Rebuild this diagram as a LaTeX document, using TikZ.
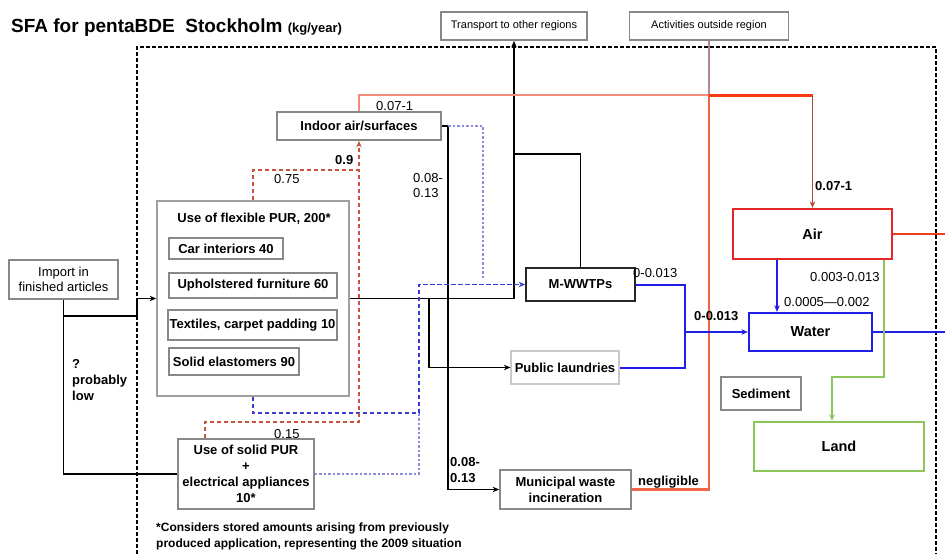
\documentclass[tikz,border=0pt]{standalone}
\usepackage{fontspec}
\setmainfont{Liberation Sans}
\usetikzlibrary{arrows.meta}
\newcommand\fsz[2]{\fontsize{#1}{#2}\selectfont}
\definecolor{boxgray}{HTML}{888888}
\definecolor{flexgray}{HTML}{A0A0A0}
\definecolor{laundgray}{HTML}{C8C8C8}
\definecolor{salmonline}{HTML}{F28C78}
\definecolor{redmed}{HTML}{F06448}
\definecolor{redthick}{HTML}{F83A10}
\definecolor{reddark}{HTML}{B8442C}
\definecolor{airred}{HTML}{E42626}
\definecolor{airline}{HTML}{E8401C}
\definecolor{bluel}{HTML}{1E1EE6}
\definecolor{bluedash}{HTML}{3A3AD8}
\definecolor{bluedot}{HTML}{8C8CE0}
\definecolor{greenl}{HTML}{8CC65A}
\definecolor{brdash}{HTML}{C8553C}
\definecolor{graybrown}{HTML}{B08888}
\begin{document}
\begin{tikzpicture}[x=1pt,y=-1pt,
  >={Stealth[length=6.5pt,width=5.5pt]},
  box/.style={draw=boxgray,line width=1.7pt,fill=white,inner sep=0pt,align=center,font=\fsz{13}{16}\bfseries},
  sbox/.style={box,font=\fsz{11}{13}},
  lbl/.style={anchor=base west,inner sep=0pt,font=\fsz{13}{15}},
  blbl/.style={anchor=base west,inner sep=0pt,font=\fsz{13}{15}\bfseries},
  blk/.style={line width=1.9pt,black},
  blu/.style={line width=2pt,bluel},
  bluthin/.style={line width=1.4pt,bluel},
  bdash/.style={line width=1.6pt,bluedash,dash pattern=on 4.5pt off 2.5pt},
  bdot/.style={line width=1.3pt,bluedot,dash pattern=on 2.5pt off 2pt},
  rdash/.style={line width=1.6pt,brdash,dash pattern=on 4.5pt off 2.5pt},
  salm/.style={line width=1.3pt,salmonline},
  gbr/.style={line width=1.3pt,graybrown},
  rmed/.style={line width=2.2pt,redmed},
  rthick/.style={line width=3pt,redthick},
  rdark/.style={line width=1.8pt,reddark},
  aline/.style={line width=2.4pt,airline},
  grn/.style={line width=1.9pt,greenl},
  bound/.style={line width=1.6pt,black,dash pattern=on 4pt off 2pt},
]
\useasboundingbox (0,0) rectangle (945,554);

% title
\node[anchor=base west,inner sep=0pt] (title) at (11,32)
  {\fsz{19}{21}\bfseries SFA for pentaBDE\ \ Stockholm {\fsz{13}{14}\bfseries(kg/year)}};

% system boundary
\draw[bound] (137,554) -- (137,47) -- (936,47) -- (936,554);

% outside boxes
\node[sbox,minimum width=146,minimum height=28] (transport) at (514,26) {Transport to other regions};
\node[sbox,minimum width=159,minimum height=28] (activities) at (709,26) {Activities outside region};

% inner boxes
\node[box,minimum width=164,minimum height=28] (indoor) at (359,126) {Indoor air/surfaces};
\node[box,draw=flexgray,minimum width=192,minimum height=195] (flex) at (253,298.5) {};
\node[anchor=base,inner sep=0pt,font=\fsz{13}{15}\bfseries] (flextitle) at (254,222) {Use of flexible PUR, 200*};
\node[box,minimum width=114,minimum height=21] (car) at (226,248.5) {Car interiors 40};
\node[box,minimum width=168,minimum height=25] (uph) at (253,285.5) {Upholstered furniture 60};
\node[box,minimum width=169,minimum height=30] (tex) at (252.5,325) {Textiles, carpet padding 10};
\node[box,minimum width=130,minimum height=27] (sol) at (234,361.5) {Solid elastomers 90};
\node[box,font=\fsz{13}{15},minimum width=109,minimum height=39] (import) at (63.5,279.5) {Import in\\finished articles};
\node[box,minimum width=136,minimum height=70] (solidpur) at (246,474) {Use of solid PUR\\+\\electrical appliances\\10*};
\node[box,draw=black!85,minimum width=109,minimum height=33] (mwwtp) at (580.5,284.5) {M-WWTPs};
\node[box,draw=laundgray,line width=1.2pt,minimum width=108,minimum height=33] (laund) at (565,367.5) {Public laundries};
\node[box,minimum width=131,minimum height=39] (mwi) at (565.5,489.5) {Municipal waste\\incineration};
\node[box,draw=airred,line width=2.3pt,font=\fsz{14.5}{16}\bfseries,minimum width=159,minimum height=50] (air) at (812.5,234) {Air};
\node[box,draw=bluel,line width=2.3pt,font=\fsz{14.5}{16}\bfseries,minimum width=123,minimum height=38] (water) at (810.5,332) {Water};
\node[box,minimum width=80,minimum height=33] (sediment) at (761,393.5) {Sediment};
\node[box,draw=greenl,line width=2.3pt,font=\fsz{14.5}{16}\bfseries,minimum width=170,minimum height=49] (land) at (839,446.5) {Land};

% junction coordinates
\coordinate (j1) at (137,316);
\coordinate (j2) at (514,154);
\coordinate (j3) at (429,298.5);
\coordinate (j4) at (419,413);
\coordinate (j5) at (448,126);
\coordinate (j6) at (483,280);
\coordinate (j7) at (359,170);
\coordinate (j8) at (359,422);
\coordinate (j8b) at (205,422);
\coordinate (j9) at (709,95);
\coordinate (j10) at (812.5,95);
\coordinate (j11) at (685,332);
\coordinate (j12) at (777,0);
\coordinate (j13) at (884,377);
\coordinate (j14) at (832,377);
\coordinate (wout) at (945,332);
\coordinate (aout) at (945,234);

% black flows
\draw[blk,->] (import.south) |- (j1) |- (flex.west);
\draw[blk] (import.south) |- (solidpur.west);
\draw[blk,->] (flex.east) -| (transport.south);
\draw[blk] (mwwtp.north) |- (j2);
\draw[blk,->] (j3) |- (laund.west);
\draw[blk,->] (indoor.east) -- (j5) |- (mwi.west);

% blue dashed / dotted
\draw[bdash,->] (flex.south) |- (j4) |- (mwwtp.west);
\draw[bdot] (solidpur.east) -| (j4);
\draw[bdot] (j5) -| (j6);

% red dashed
\draw[rdash,->] (flex.north) |- (j7) -- (indoor.south);
\draw[rdash] (solidpur.north -| j8b) -- (j8b) -- (j8) -- (j7);

% red / salmon
\draw[salm] (indoor.north) |- (j9);
\draw[gbr] (activities.south) -- (j9);
\draw[rmed] (j9) |- (mwi.east);
\draw[rthick] (j9) -- (j10);
\draw[rdark,->] (j10) -- (air.north);
\draw[aline] (air.east) -- (aout);

% blue
\draw[blu] (mwwtp.east) -| (j11) |- (laund.east);
\draw[blu,->] (j11) -- (water.west);
\draw[blu] (water.east) -- (wout);
\draw[bluthin,->] (air.south -| j12) -- (water.north -| j12);

% green
\draw[grn,->] (air.south -| j13) -- (j13) -- (j14) -- (land.north -| j14);

% labels
\node[lbl] (l1) at (376,110) {0.07-1};
\node[blbl] (l2) at (335,164) {0.9};
\node[lbl] (l3) at (274,183) {0.75};
\node[lbl] (l4) at (274,438) {0.15};
\node[lbl] (l5a) at (413,182) {0.08-};
\node[lbl] (l5b) at (413,197) {0.13};
\node[blbl] (l6a) at (450,466) {0.08-};
\node[blbl] (l6b) at (450,482) {0.13};
\node[blbl] (q1) at (72,368) {?};
\node[blbl] (q2) at (72,384) {probably};
\node[blbl] (q3) at (72,400) {low};
\node[lbl] (l7) at (633,277) {0-0.013};
\node[blbl] (l8) at (694,320) {0-0.013};
\node[lbl] (l9) at (810,281) {0.003-0.013};
\node[lbl] (l10) at (784,306) {0.0005—0.002};
\node[blbl] (l11) at (815,190) {0.07-1};
\node[blbl] (l12) at (638,485) {negligible};
\node[anchor=base west,inner sep=0pt,font=\fsz{12}{14}\bfseries] (foot1) at (156,531) {*Considers stored amounts arising from previously};
\node[anchor=base west,inner sep=0pt,font=\fsz{12}{14}\bfseries] (foot2) at (156,547) {produced application, representing the 2009 situation};
\end{tikzpicture}
\end{document}
